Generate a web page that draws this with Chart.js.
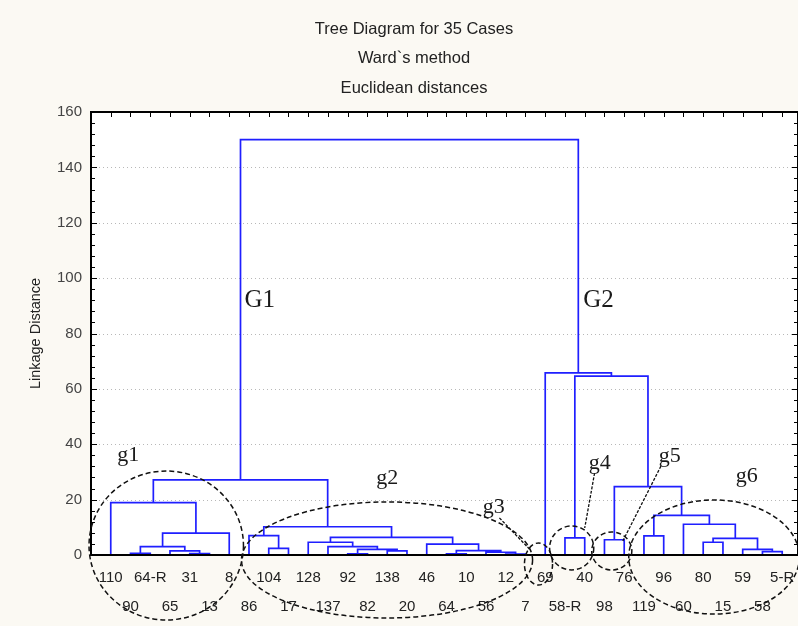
<!DOCTYPE html>
<html><head><meta charset="utf-8">
<script src="https://cdn.jsdelivr.net/npm/chart.js@4.4.1/dist/chart.umd.min.js"></script>
<style>html,body{margin:0;padding:0;background:#fbf9f3;} #wrap{width:798px;height:626px;position:relative;}</style>
</head><body><div id="wrap"><canvas id="c"></canvas></div>
<script>
const titleLines = ['Tree Diagram for 35 Cases', 'Ward`s method', 'Euclidean distances'];
const yTitle = 'Linkage Distance';
const leafLabels = ['110','90','64-R','65','31','13','8','86','104','17','128','137','92','82','138','20','46','64','10','56','12','7','69','58-R','40','98','76','119','96','60','80','15','59','58','5-R'];
const yTicks = [0, 20, 40, 60, 80, 100, 120, 140, 160];
// merge children: positive = leaf position (1..35), negative = earlier merge number
const mergeLeft   = [2, 5, 4, -1, -4, 1,   9, 8,   13, 15, -9, 12, 11,   18, 21, 20, -14, 17, -13, -8, -6,   24, 26, 28, 31, 34, 33, -25, 30, -24, -23, -22, 23, -21];
const mergeRight  = [3, 6, -2, -3, 7, -5,  10, -7,  14, 16, -10, -11, -12, 19, 22, -15, -16, -17, -18, -19, -20, 25, 27, 29, 32, 35, -26, -27, -28, -29, -30, -31, -32, -33];
const mergeHeight = [0.6, 0.5, 1.5, 3.0, 7.9, 18.9,  2.4, 7.0,  0.4, 1.5, 2.0, 3.0, 4.6,  0.4, 0.3, 1.0, 1.55, 3.9, 6.4, 10.2, 27.1,  6.2, 5.5, 6.9, 4.6, 1.2, 2.0, 6.0, 11.1, 14.3, 24.7, 64.6, 65.8, 150];
const groupNames = ['G1', 'G2', 'g1', 'g2', 'g3', 'g4', 'g5', 'g6'];

// annotation layout (data units)
const annot = {
  textX: [8.54, 25.7, 1.88, 15.0, 20.4, 25.76, 29.3, 33.2],
  textY: [92.1, 92.1, 36.1, 27.8, 17.3, 33.2, 35.7, 28.5],
  ell: [[3.81, 3.43, 3.91, 26.9], [14.99, -1.8, 7.37, 20.95], [22.66, -3.25, 0.711, 7.58], [24.34, 2.53, 1.118, 7.94], [26.37, 1.44, 1.016, 6.86], [31.55, -0.72, 4.32, 20.6]],
  lead: [[20.68, 13.4, 22.25, 1.8], [25.5, 29.6, 25.0, 9.75], [28.86, 32.1, 26.93, 5.06]]
};

// dendrogram layout
const nodeX = [], nodeH = [];
function nodeOf(ref) { return ref > 0 ? {x: ref, h: 0} : {x: nodeX[-ref - 1], h: nodeH[-ref - 1]}; }
const segPts = [];
for (let k = 0; k < mergeHeight.length; k++) {
  const a = nodeOf(mergeLeft[k]), b = nodeOf(mergeRight[k]), h = mergeHeight[k];
  segPts.push({x: a.x, y: a.h}, {x: a.x, y: h}, {x: b.x, y: h}, {x: b.x, y: b.h}, {x: b.x, y: null});
  nodeX[k] = (a.x + b.x) / 2; nodeH[k] = h;
}

const deco = {
  id: 'deco',
  beforeDraw(chart) {
    const {ctx, chartArea: ca} = chart;
    ctx.save();
    ctx.fillStyle = '#fbf9f3'; ctx.fillRect(0, 0, chart.width, chart.height);
    ctx.fillStyle = '#ffffff'; ctx.fillRect(ca.left, ca.top, ca.right - ca.left, ca.bottom - ca.top);
    ctx.restore();
  },
  beforeDatasetsDraw(chart) {
    const {ctx, chartArea: ca, scales: {y}} = chart;
    ctx.save();
    ctx.strokeStyle = '#b8b8b8'; ctx.lineWidth = 1; ctx.setLineDash([1, 3]);
    yTicks.forEach(v => {
      if (v === 0 || v === 160) return;
      const py = Math.round(y.getPixelForValue(v)) + 0.5;
      ctx.beginPath(); ctx.moveTo(ca.left, py); ctx.lineTo(ca.right, py); ctx.stroke();
    });
    ctx.restore();
  },
  afterDatasetsDraw(chart) {
    const {ctx, chartArea: ca, scales: {x, y}} = chart;
    ctx.save();
    // frame
    ctx.strokeStyle = '#000'; ctx.lineWidth = 2; ctx.setLineDash([]);
    ctx.strokeRect(ca.left, ca.top, ca.right - ca.left, ca.bottom - ca.top);
    // inward ticks
    ctx.lineWidth = 1;
    ctx.beginPath();
    for (let v = 0; v <= 160; v += 4) {
      const py = Math.round(y.getPixelForValue(v)) + 0.5;
      const len = (v % 20 === 0) ? 6 : 4;
      ctx.moveTo(ca.left, py); ctx.lineTo(ca.left + len, py);
      ctx.moveTo(ca.right, py); ctx.lineTo(ca.right - len, py);
    }
    for (let i = 1; i <= leafLabels.length; i++) {
      const px = Math.round(x.getPixelForValue(i)) + 0.5;
      ctx.moveTo(px, ca.top); ctx.lineTo(px, ca.top + 5);
    }
    ctx.stroke();
    // ellipses
    ctx.strokeStyle = '#111'; ctx.lineWidth = 1.5; ctx.setLineDash([5, 3]);
    annot.ell.forEach(([cx, cy, rx, ry]) => {
      const px = x.getPixelForValue(cx), py = y.getPixelForValue(cy);
      const rpx = x.getPixelForValue(cx + rx) - px, rpy = py - y.getPixelForValue(cy + ry);
      ctx.beginPath(); ctx.ellipse(px, py, rpx, rpy, 0, 0, Math.PI * 2); ctx.stroke();
    });
    ctx.lineWidth = 1.3; ctx.setLineDash([3, 1.5]);
    annot.lead.forEach(([x1, y1, x2, y2]) => {
      ctx.beginPath(); ctx.moveTo(x.getPixelForValue(x1), y.getPixelForValue(y1));
      ctx.lineTo(x.getPixelForValue(x2), y.getPixelForValue(y2)); ctx.stroke();
    });
    // group labels
    ctx.setLineDash([]);
    ctx.fillStyle = '#1a1a1a'; ctx.textAlign = 'center'; ctx.textBaseline = 'middle';
    groupNames.forEach((n, i) => {
      ctx.font = (n[0] === 'G' ? '25px' : '22px') + ' "Liberation Serif", "Times New Roman", serif';
      ctx.fillText(n, x.getPixelForValue(annot.textX[i]), y.getPixelForValue(annot.textY[i]));
    });
    // titles
    ctx.font = '16.5px "Liberation Sans", Arial, sans-serif';
    ctx.fillStyle = '#222';
    titleLines.forEach((t, i) => ctx.fillText(t, 414, 29 + i * 29.5));
    ctx.restore();
  }
};

new Chart(document.getElementById('c'), {
  type: 'scatter',
  data: { datasets: [{
    data: segPts, showLine: true, spanGaps: false, pointRadius: 0, pointHoverRadius: 0,
    borderColor: '#1f1fff', borderWidth: 1.7, fill: false, tension: 0
  }]},
  options: {
    responsive: true, maintainAspectRatio: false, animation: false, devicePixelRatio: 1,
    layout: { padding: { top: 112, right: 0, left: 0, bottom: 0 } },
    plugins: { legend: { display: false }, tooltip: { enabled: false }, title: { display: false } },
    scales: {
      x: {
        type: 'linear', min: 0, max: 35.8,
        afterFit(s) { s.height = 71; s.paddingRight = 0; s.paddingLeft = 0; },
        afterBuildTicks(s) { s.ticks = leafLabels.map((_, i) => ({ value: i + 1 })); },
        grid: { display: false, drawTicks: false },
        border: { display: false },
        ticks: {
          autoSkip: false, maxRotation: 0, minRotation: 0, padding: 8.5, color: '#222',
          font: { size: 15, family: '"Liberation Sans", Arial, sans-serif', lineHeight: 29 / 15 },
          callback(v, i) { const l = leafLabels[i]; return (i % 2 === 0) ? [l, ' '] : [' ', l]; }
        }
      },
      y: {
        type: 'linear', min: 0, max: 160,
        afterFit(s) { s.width = 91; },
        afterBuildTicks(s) { s.ticks = yTicks.map(v => ({ value: v })); },
        grid: { display: false, drawTicks: false },
        border: { display: false },
        ticks: { padding: 9, color: '#444', font: { size: 15, family: '"Liberation Sans", Arial, sans-serif' } },
        title: { display: true, text: yTitle, color: '#222', padding: { top: 27, bottom: 0 },
                 font: { size: 14.5, family: '"Liberation Sans", Arial, sans-serif' } }
      }
    }
  },
  plugins: [deco]
});
</script></body></html>
